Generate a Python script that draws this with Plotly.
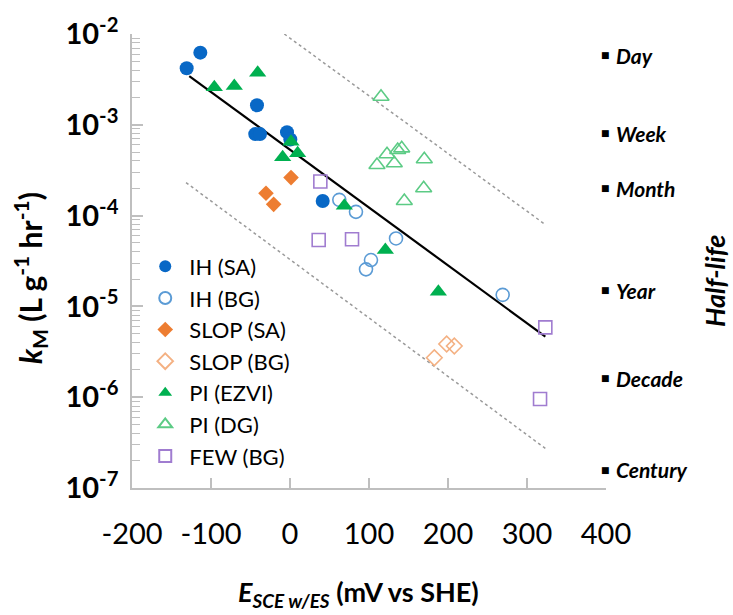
import math
import plotly.graph_objects as go

# ---------------- data ----------------
ih_sa_x = [-130.8, -113.5, -41.8, -44, -38, -3.8, 0.4, 41.4]
ih_sa_y = [4.19e-3, 6.23e-3, 1.64e-3, 7.9e-4, 7.9e-4, 8.3e-4, 6.9e-4, 1.45e-4]

ih_bg_x = [62.4, 83.5, 134.2, 102.5, 96.2, 269.2]
ih_bg_y = [1.49e-4, 1.10e-4, 5.6e-5, 3.24e-5, 2.56e-5, 1.34e-5]

slop_sa_x = [1.3, -30.4, -20.7]
slop_sa_y = [2.62e-4, 1.76e-4, 1.33e-4]

slop_bg_x = [182.7, 198.3, 208.0]
slop_bg_y = [2.72e-6, 3.85e-6, 3.66e-6]

pi_ezvi_x = [-95.8, -70.5, -40.9, 1.3, -9.3, 9.7, 68.8, 120.7, 187.8]
pi_ezvi_y = [2.59e-3, 2.67e-3, 3.75e-3, 6.5e-4, 4.38e-4, 4.85e-4, 1.28e-4, 4.18e-5, 1.45e-5]

pi_dg_x = [115.2, 122.8, 136.3, 141.4, 110.1, 132.0, 170.0, 169.2, 144.7]
pi_dg_y = [2.04e-3, 4.73e-4, 5.27e-4, 5.5e-4, 3.61e-4, 3.77e-4, 4.17e-4, 2.0e-4, 1.45e-4]

few_bg_x = [38.4, 36.3, 78.5, 323.2, 316.5]
few_bg_y = [2.37e-4, 5.38e-5, 5.48e-5, 5.88e-6, 9.55e-7]

fit_x = [-127.5, 323.2]
fit_y = [3.44e-3, 4.65e-6]
upper_x = [-7.2, 324.0]
upper_y = [1e-2, 7.87e-5]
lower_x = [-131.6, 323.2]
lower_y = [2.31e-4, 2.73e-7]

halflife_labels = ["Day", "Week", "Month", "Year", "Decade", "Century"]
halflife_k = [5.87e-3, 8.1e-4, 2.01e-4, 1.51e-5, 1.62e-6, 1.58e-7]

x_ticks = [-200, -100, 0, 100, 200, 300, 400]
y_exps = [-7, -6, -5, -4, -3, -2]

# ---------------- figure ----------------
FONT = "Lato"
fig = go.Figure()

fig.add_trace(go.Scatter(x=upper_x, y=upper_y, mode="lines", showlegend=False,
                         line=dict(color="#9a9a9a", width=1.5, dash="dot"), hoverinfo="skip"))
fig.add_trace(go.Scatter(x=lower_x, y=lower_y, mode="lines", showlegend=False,
                         line=dict(color="#9a9a9a", width=1.5, dash="dot"), hoverinfo="skip"))
fig.add_trace(go.Scatter(x=fit_x, y=fit_y, mode="lines", showlegend=False,
                         line=dict(color="black", width=2.2), hoverinfo="skip"))

series = [
    ("IH (SA)", ih_sa_x, ih_sa_y, "circle", 14, "#0868C6", True),
    ("IH (BG)", ih_bg_x, ih_bg_y, "circle-open", 13, "#5B9BD5", False),
    ("SLOP (SA)", slop_sa_x, slop_sa_y, "diamond", 12, "#ED7D31", True),
    ("SLOP (BG)", slop_bg_x, slop_bg_y, "diamond-open", 12, "#F4B183", False),
    ("PI (EZVI)", pi_ezvi_x, pi_ezvi_y, "triangle-up", 15, "#00B050", True),
    ("PI (DG)", pi_dg_x, pi_dg_y, "triangle-up-open", 14, "#5CCB85", False),
    ("FEW (BG)", few_bg_x, few_bg_y, "square-open", 13, "#A07CD0", False),
]
for name, xs, ys, sym, size, col, filled in series:
    fig.add_trace(go.Scatter(
        x=xs, y=ys, mode="markers", name=name,
        marker=dict(symbol=sym, size=size, color=col,
                    line=dict(color=col, width=1.6 if not filled else 0)),
    ))

# half-life labels on right side (log axis -> annotation y in log10 units)
for lab, k in zip(halflife_labels, halflife_k):
    fig.add_annotation(x=1.0, xref="paper", y=math.log10(k), yref="y",
                       xanchor="center", yanchor="middle", xshift=-1,
                       showarrow=False, text="■",
                       font=dict(family="DejaVu Sans", size=9, color="black"))
    fig.add_annotation(x=1.0, xref="paper", y=math.log10(k), yref="y",
                       xanchor="left", yanchor="middle", xshift=8,
                       showarrow=False, text="<b><i>%s</i></b>" % lab,
                       font=dict(family=FONT, size=21, color="black"))

W, H = 733, 615
L, R, T, B = 132, 127, 34, 127
pw, ph = W - L - R, H - T - B

def px_x(p):
    return (p - L) / pw

def px_y(p):
    return (H - B - p) / ph

fig.add_annotation(x=px_x(714), y=px_y(281), xref="paper", yref="paper",
                   xanchor="center", yanchor="middle",
                   showarrow=False, textangle=-90,
                   text="<b><i>Half-life</i></b>",
                   font=dict(family=FONT, size=27, color="black"))
fig.add_annotation(x=px_x(30), y=px_y(278), xref="paper", yref="paper",
                   xanchor="center", yanchor="middle",
                   showarrow=False, textangle=-90,
                   text="<b><i>k</i><sub>M</sub> (L g<sup>-1</sup> hr<sup>-1</sup>)</b>",
                   font=dict(family=FONT, size=30, color="black"))
fig.add_annotation(x=px_x(358), y=px_y(593), xref="paper", yref="paper",
                   xanchor="center", yanchor="middle",
                   showarrow=False,
                   text="<b><i>E</i><sub><i>SCE w/ES</i></sub> (mV vs SHE)</b>",
                   font=dict(family=FONT, size=27, color="black"))

minor_vals = [m * 10.0 ** e for e in range(-7, -2) for m in range(2, 10)]

fig.update_layout(
    width=W, height=H,
    margin=dict(l=L, r=R, t=T, b=B),
    plot_bgcolor="white", paper_bgcolor="white",
    font=dict(family=FONT, color="black"),
    legend=dict(x=0.0195, y=0.534, xanchor="left", yanchor="top",
                font=dict(family=FONT, size=22, color="black"),
                bgcolor="rgba(0,0,0,0)", itemwidth=38,
                itemsizing="constant"),
    xaxis=dict(range=[-200, 400], tickvals=x_ticks, ticktext=[str(v) for v in x_ticks],
               ticks="inside", ticklen=10, tickcolor="#BFBFBF", tickwidth=1.5,
               showline=True, linecolor="#BFBFBF", linewidth=1.5, mirror=False,
               showgrid=False, zeroline=False, ticklabelstandoff=19,
               tickfont=dict(family=FONT, size=29, color="black")),
    yaxis=dict(type="log", range=[-7, -2],
               tickvals=[10.0 ** e for e in y_exps],
               ticktext=["<b>10<sup>%d</sup></b>" % e for e in y_exps],
               ticks="inside", ticklen=11, tickcolor="#BFBFBF", tickwidth=1.5,
               showline=True, linecolor="#BFBFBF", linewidth=1.5,
               showgrid=False, zeroline=False, ticklabelstandoff=6,
               tickfont=dict(family=FONT, size=29, color="black"),
               minor=dict(tickmode="array", tickvals=minor_vals, ticks="inside",
                          ticklen=8, tickcolor="#BFBFBF", tickwidth=1.2, showgrid=False)),
)

fig.write_html("out.html")
